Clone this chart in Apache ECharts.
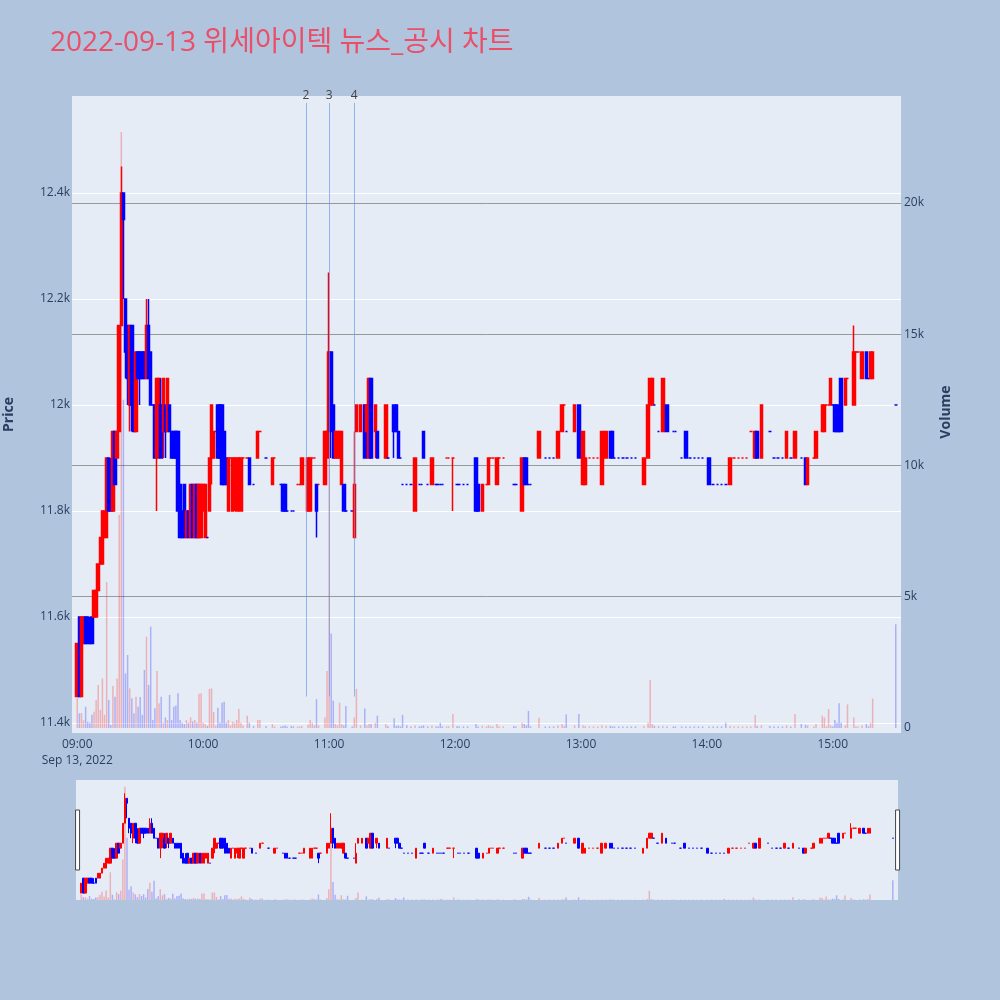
<!DOCTYPE html>
<html><head><meta charset="utf-8">
<script src="https://cdn.jsdelivr.net/npm/echarts@6/dist/echarts.min.js"></script>
<style>html,body{margin:0;padding:0;background:#B0C4DE;}#c{width:1000px;height:1000px;}</style>
</head><body><div id="c"></div>
<script>
const chartTitle = '2022-09-13 위세아이텍 뉴스_공시 차트';
const dateLabel = 'Sep 13, 2022';
// minutes after 09:00 of each traded candle
const minutes = [
0,1,2,3,4,5,6,7,8,9,
10,11,12,13,14,15,16,17,18,19,
20,21,22,23,24,25,26,27,28,29,
30,31,32,33,34,35,36,37,38,39,
40,41,42,43,44,45,46,47,48,49,
50,51,52,53,54,55,56,57,58,59,
60,61,62,63,64,65,66,67,68,69,
70,71,72,73,74,75,76,77,78,79,
81,82,84,86,87,90,93,94,97,98,
99,100,102,103,105,106,107,110,111,112,
113,114,115,118,119,120,121,122,123,124,
125,126,127,128,131,132,133,135,137,138,
139,140,142,143,147,148,151,152,153,154,
155,157,159,161,163,164,165,167,169,171,
172,173,174,176,177,179,181,182,184,186,
190,191,193,195,196,197,198,200,201,203,
208,209,212,213,214,215,216,220,223,225,
227,229,231,232,233,237,239,241,242,244,
246,248,250,252,254,255,256,258,260,262,
264,266,270,272,273,274,275,277,279,281,
284,285,288,290,292,294,296,298,301,303,
305,307,309,311,313,315,317,319,321,323,
324,326,330,332,334,336,338,340,342,345,
347,348,351,352,355,356,357,358,359,360,
361,362,363,364,366,367,370,371,372,374,
376,377,378,379,390];
const opens = [
11450,11600,11450,11550,11600,11600,11550,11600,11600,11600,
11650,11700,11700,11750,11750,11900,11850,11800,11950,11900,
11950,12150,12400,12200,12150,12000,12150,12000,11950,12100,
12100,12100,12100,12050,12150,12100,12000,12000,11900,11950,
12000,11950,12000,11950,12000,11950,11950,11950,11950,11850,
11800,11850,11750,11800,11750,11850,11750,11850,11750,11750,
11800,11750,11750,11800,11900,11900,11950,12000,12000,12000,
11950,11900,11800,11900,11800,11850,11800,11900,11800,11900,
11900,11900,11850,11900,11950,11900,11850,11900,11850,11850,
11850,11800,11800,11800,11850,11850,11850,11800,11800,11900,
11900,11850,11850,11850,11900,11950,12100,12000,11900,11900,
11900,11850,11850,11800,11800,11750,11950,11950,12000,11950,
11900,12050,11950,11950,11900,11900,12000,12000,11950,11900,
11850,11850,11850,11800,11850,11850,11950,11850,11850,11850,
11850,11850,11850,11900,11900,11900,11850,11850,11850,11850,
11900,11850,11800,11850,11850,11900,11900,11850,11900,11900,
11850,11850,11800,11900,11900,11850,11850,11900,11900,11900,
11900,11900,11950,12000,11950,11950,12000,11850,11850,11900,
11900,11900,11850,11900,11950,11950,11900,11900,11900,11900,
11900,11900,11850,11900,12000,12000,12000,11950,11950,12000,
11950,11950,11900,11950,11900,11900,11900,11900,11900,11850,
11850,11850,11850,11850,11900,11900,11900,11900,11950,11900,
11950,11900,11950,11900,11900,11900,11900,11900,11900,11900,
11900,11850,11900,11900,11950,11950,12000,12000,12000,12000,
12000,12000,11950,12050,12000,12050,12000,12100,12100,12050,
12100,12050,12050,12050,12000];
const closes = [
11550,11450,11600,11600,11550,11550,11550,11550,11650,11650,
11700,11750,11800,11800,11900,11800,11800,11950,11850,11950,
12150,12400,12350,12100,12050,12150,12000,11950,12100,12050,
12050,12050,12050,12150,12050,12000,12000,11900,12050,12050,
11900,12050,11950,12050,11950,11900,11900,11900,11800,11750,
11750,11750,11800,11750,11850,11750,11850,11750,11850,11850,
11850,11850,11750,11900,12000,11950,11950,11900,11900,11850,
11850,11850,11900,11900,11900,11900,11900,11900,11900,11900,
11900,11850,11850,11950,11950,11900,11900,11900,11850,11800,
11800,11800,11800,11800,11850,11850,11900,11900,11900,11900,
11900,11800,11850,11950,11950,12100,11950,11900,11950,11950,
11950,11950,11800,11800,11800,11850,12000,12000,11900,12000,
12050,11900,12000,11900,12000,11900,11950,11950,11900,11900,
11850,11850,11850,11900,11850,11850,11900,11850,11900,11850,
11850,11850,11850,11900,11900,11900,11850,11850,11850,11850,
11800,11800,11850,11850,11900,11900,11900,11900,11900,11900,
11850,11850,11900,11850,11850,11850,11850,11950,11900,11900,
11900,11950,12000,12000,11950,12000,11900,11950,11900,11900,
11900,11900,11950,11950,11900,11900,11900,11900,11900,11900,
11900,11900,11900,12000,12050,12050,12000,11950,12050,11950,
11950,11950,11900,11900,11900,11900,11900,11900,11850,11850,
11850,11850,11850,11900,11900,11900,11900,11900,11950,11950,
11900,12000,11950,11900,11900,11900,11950,11900,11950,11900,
11850,11900,11900,11950,12000,12000,12000,12000,12050,12000,
11950,11950,11950,11950,12050,12050,12100,12100,12100,12100,
12050,12050,12100,12100,12000];
const lows = [
11450,11450,11450,11550,11550,11550,11550,11550,11600,11600,
11650,11700,11700,11750,11750,11800,11800,11800,11850,11900,
11950,12150,12200,12050,12000,11950,11950,11950,11950,12050,
12000,12050,12050,12050,12050,12000,12000,11900,11800,11900,
11900,11900,11900,11950,11950,11900,11900,11900,11800,11750,
11750,11750,11750,11750,11750,11750,11750,11750,11750,11750,
11800,11750,11750,11800,11850,11900,11950,11900,11900,11850,
11850,11850,11800,11900,11800,11800,11800,11900,11800,11900,
11900,11850,11850,11900,11950,11900,11850,11900,11850,11800,
11800,11800,11800,11800,11850,11850,11850,11800,11800,11900,
11900,11750,11850,11850,11900,11950,11900,11900,11900,11900,
11900,11850,11800,11800,11800,11750,11950,11950,11900,11950,
11900,11900,11900,11900,11900,11900,11900,11950,11900,11900,
11850,11850,11850,11800,11850,11850,11900,11850,11850,11850,
11850,11850,11850,11900,11900,11800,11850,11850,11850,11850,
11800,11800,11800,11850,11850,11900,11900,11850,11900,11900,
11850,11850,11800,11850,11850,11850,11850,11900,11900,11900,
11900,11900,11950,12000,11950,11950,11900,11850,11850,11900,
11900,11900,11850,11900,11900,11900,11900,11900,11900,11900,
11900,11900,11850,11900,12000,12000,12000,11950,11950,11950,
11950,11950,11900,11900,11900,11900,11900,11900,11850,11850,
11850,11850,11850,11850,11900,11900,11900,11900,11950,11900,
11900,11900,11950,11900,11900,11900,11900,11900,11900,11900,
11850,11850,11900,11900,11950,11950,12000,12000,12000,12000,
11950,11950,11950,11950,12000,12050,12000,12100,12100,12050,
12050,12050,12050,12050,12000];
const highs = [
11550,11600,11600,11600,11600,11600,11600,11600,11650,11650,
11700,11750,11800,11800,11900,11900,11900,11950,11950,11950,
12150,12450,12400,12200,12150,12150,12150,12100,12100,12100,
12100,12100,12100,12200,12200,12100,12000,12000,12050,12050,
12050,12050,12000,12050,12000,11950,11950,11950,11950,11850,
11850,11850,11800,11800,11850,11850,11850,11850,11850,11850,
11850,11850,11750,11900,12000,11950,11950,12000,12000,12000,
11950,11900,11900,11900,11900,11900,11900,11900,11900,11900,
11900,11900,11850,11950,11950,11900,11900,11900,11850,11850,
11850,11800,11800,11800,11850,11850,11900,11900,11900,11900,
11900,11850,11850,11950,11950,12250,12100,12000,11950,11950,
11950,11950,11850,11800,11800,11950,12000,12000,12000,12000,
12050,12050,12000,11950,12000,11900,12000,12000,11950,11900,
11850,11850,11850,11900,11850,11850,11950,11850,11900,11850,
11850,11850,11850,11900,11900,11900,11850,11850,11850,11850,
11900,11850,11850,11850,11900,11900,11900,11900,11900,11900,
11850,11850,11900,11900,11900,11850,11850,11950,11900,11900,
11900,11950,12000,12000,11950,12000,12000,11950,11900,11900,
11900,11900,11950,11950,11950,11950,11900,11900,11900,11900,
11900,11900,11900,12000,12050,12050,12000,11950,12050,12000,
11950,11950,11900,11950,11900,11900,11900,11900,11900,11850,
11850,11850,11850,11900,11900,11900,11900,11900,11950,11950,
11950,12000,11950,11900,11900,11900,11950,11900,11950,11900,
11900,11900,11900,11950,12000,12000,12000,12000,12050,12000,
12000,12000,11950,12050,12050,12050,12150,12100,12100,12100,
12100,12050,12100,12100,12000];
const volumes = [
1130,560,570,300,810,240,200,500,620,1060,
1640,690,1890,500,5560,1070,110,1600,1190,1890,
8110,22700,12500,2080,2780,1510,1130,560,1190,810,
1180,500,2210,3480,1640,3860,300,750,2170,940,
1190,200,400,300,1260,300,810,860,1320,300,
200,150,300,200,400,250,300,200,1300,1320,
200,150,80,1490,1510,610,100,775,200,965,
1000,200,300,100,250,200,300,724,200,100,
470,200,80,300,300,80,150,60,60,80,
100,60,80,60,60,60,80,120,300,200,
100,1100,100,400,2170,13000,3600,1040,150,100,
965,150,100,840,60,400,1490,100,740,100,
150,150,200,470,150,80,370,80,100,60,
500,100,60,100,60,80,100,60,100,60,
60,200,60,60,60,530,80,60,60,60,
150,60,80,60,100,60,60,150,60,60,
80,60,200,150,100,650,60,390,60,60,
60,100,150,80,520,100,530,100,80,60,
60,60,100,80,80,60,60,60,60,60,
60,60,80,200,1830,150,80,60,80,60,
60,60,60,60,60,60,60,60,60,60,
60,60,200,80,60,60,60,60,60,495,
80,100,80,60,60,60,100,60,530,150,
120,100,60,150,470,400,60,720,100,60,
300,200,940,200,100,900,400,60,60,100,
150,60,200,1120,3950];
// news / disclosure markers (minutes after 09:00)
const newsMinutes = [109, 120, 132];
const newsLabels = ['2', '3', '4'];

// ---- axis categories: one per minute, 08:58 .. 15:32 ----
const FIRST_MIN = 8 * 60 + 58, OFFSET = 2, NCAT = 395;
const cats = [];
for (let i = 0; i < NCAT; i++) {
  const t = FIRST_MIN + i;
  cats.push(String(Math.floor(t / 60)).padStart(2, '0') + ':' + String(t % 60).padStart(2, '0'));
}
const UP = '#FF0000', DOWN = '#0000FF';
const UPV = 'rgba(255,0,0,0.25)', DOWNV = 'rgba(0,0,255,0.25)';
const candleData = new Array(NCAT).fill('-');
const volData = new Array(NCAT).fill('-');
const miniCandle = new Array(NCAT).fill('-');
let prevC = null, prevInc = true;
minutes.forEach((m, k) => {
  const o = opens[k], c = closes[k];
  let inc;
  if (c > o) inc = true; else if (c < o) inc = false;
  else if (prevC === null) inc = true;
  else if (c > prevC) inc = true; else if (c < prevC) inc = false; else inc = prevInc;
  prevC = c; prevInc = inc;
  const col = inc ? UP : DOWN;
  const st = {color: col, color0: col, borderColor: col, borderColor0: col, borderColorDoji: col};
  candleData[m + OFFSET] = {value: [o, c, lows[k], highs[k]], itemStyle: st};
  miniCandle[m + OFFSET] = {value: [o, c, lows[k], highs[k]], itemStyle: st};
  volData[m + OFFSET] = {value: volumes[k], itemStyle: {color: inc ? UPV : DOWNV}};
});

const PMIN = 11381, PMAX = 12583, VMAX = 24076;
const txt = '#2a3f5f';
const font = "'Open Sans', 'Noto Sans CJK KR', sans-serif";

const chart = echarts.init(document.getElementById('c'));
chart.setOption({
  backgroundColor: '#B0C4DE',
  animation: false,
  textStyle: {fontFamily: font},
  title: {text: chartTitle, left: 50, top: 29, padding: 0,
    textStyle: {color: '#EB4F68', fontSize: 28, fontWeight: 'normal', fontFamily: font}},
  grid: [
    {left: 72, right: 99, top: 96, bottom: 267, show: true, backgroundColor: '#E5ECF6', borderWidth: 0, containLabel: false, outerBoundsMode: 'none'},
    {left: 72, right: 99, top: 96, bottom: 272, show: false, containLabel: false, outerBoundsMode: 'none'},
    {left: 76, right: 102, top: 780, height: 120, show: true, backgroundColor: '#E5ECF6', borderWidth: 0, containLabel: false, outerBoundsMode: 'none'},
    {left: 76, right: 102, top: 780, height: 120, show: false, containLabel: false, outerBoundsMode: 'none'}
  ],
  xAxis: [
    {type: 'category', data: cats, gridIndex: 0, boundaryGap: true,
      axisLine: {show: false}, axisTick: {show: false}, splitLine: {show: false},
      axisLabel: {color: txt, fontSize: 12, margin: 4, lineHeight: 16,
        interval: (i, v) => v.endsWith(':00'),
        formatter: v => v === '09:00' ? '09:00\n' + dateLabel : v}},
    {type: 'category', data: cats, gridIndex: 1, show: false},
    {type: 'category', data: cats, gridIndex: 2, show: false},
    {type: 'category', data: cats, gridIndex: 3, show: false}
  ],
  yAxis: [
    {type: 'value', gridIndex: 0, min: PMIN, max: PMAX, position: 'left',
      name: 'Price', nameLocation: 'middle', nameGap: 56,
      nameTextStyle: {color: txt, fontSize: 14, fontWeight: 'bold'},
      axisLine: {show: false}, axisTick: {show: false},
      axisLabel: {color: txt, fontSize: 12, margin: 2, showMinLabel: false, showMaxLabel: false,
        formatter: v => (v / 1000) + 'k'},
      splitLine: {show: true, showMinLine: false, showMaxLine: false, lineStyle: {color: '#ffffff', width: 1}}},
    {type: 'value', gridIndex: 1, min: 0, max: VMAX, position: 'right',
      name: 'Volume', nameLocation: 'middle', nameGap: 38,
      nameTextStyle: {color: txt, fontSize: 14, fontWeight: 'bold'},
      axisLine: {show: false}, axisTick: {show: false},
      axisLabel: {color: txt, fontSize: 12, margin: 3, showMaxLabel: false,
        formatter: v => v === 0 ? '0' : (v / 1000) + 'k'},
      splitLine: {show: true, showMinLine: false, showMaxLine: false, lineStyle: {color: '#999999', width: 1}}},
    {type: 'value', gridIndex: 2, min: PMIN, max: PMAX, show: false, splitLine: {show: false}},
    {type: 'value', gridIndex: 3, min: 0, max: VMAX, show: false, splitLine: {show: false}}
  ],
  dataZoom: [{
    type: 'slider', xAxisIndex: [0, 1], start: 0, end: 100,
    left: 76, right: 102, top: 780, height: 120,
    showDataShadow: false, showDetail: false, brushSelect: false,
    backgroundColor: 'rgba(0,0,0,0)', borderColor: 'rgba(0,0,0,0)', fillerColor: 'rgba(0,0,0,0)',
    moveHandleSize: 0,
    handleIcon: 'path://M0,0 L4,0 L4,60 L0,60 Z', handleSize: '50%',
    handleStyle: {color: '#ffffff', borderColor: '#444444', borderWidth: 1},
    emphasis: {handleStyle: {color: '#ffffff', borderColor: '#444444', borderWidth: 1}},
    dataBackground: {lineStyle: {opacity: 0}, areaStyle: {opacity: 0}},
    selectedDataBackground: {lineStyle: {opacity: 0}, areaStyle: {opacity: 0}}
  }],
  series: [
    {type: 'bar', name: 'Volume', xAxisIndex: 1, yAxisIndex: 1, data: volData, barWidth: 1.5, z: 1, silent: true},
    {type: 'candlestick', name: 'Price', xAxisIndex: 0, yAxisIndex: 0, data: candleData,
      barWidth: 3, z: 3, silent: true,
      itemStyle: {color: UP, color0: DOWN, borderColor: UP, borderColor0: DOWN, borderWidth: 1.5},
      markLine: {
        silent: true, symbol: ['none', 'none'], animation: false,
        lineStyle: {color: 'rgba(100,149,237,0.65)', width: 1, type: 'solid'},
        label: {show: true, position: 'end', distance: 1, formatter: '{b}', color: '#444444', fontSize: 12},
        data: newsMinutes.map((m, i) => [
          {name: newsLabels[i], coord: [cats[m + OFFSET], 11450]},
          {name: newsLabels[i], coord: [cats[m + OFFSET], 12570]}
        ])
      }},
    {type: 'bar', xAxisIndex: 3, yAxisIndex: 3, data: volData, barWidth: 1.5, z: 1, silent: true},
    {type: 'candlestick', xAxisIndex: 2, yAxisIndex: 2, data: miniCandle, barWidth: 2, z: 3, silent: true,
      itemStyle: {color: UP, color0: DOWN, borderColor: UP, borderColor0: DOWN, borderWidth: 1}}
  ]
});
</script></body></html>
